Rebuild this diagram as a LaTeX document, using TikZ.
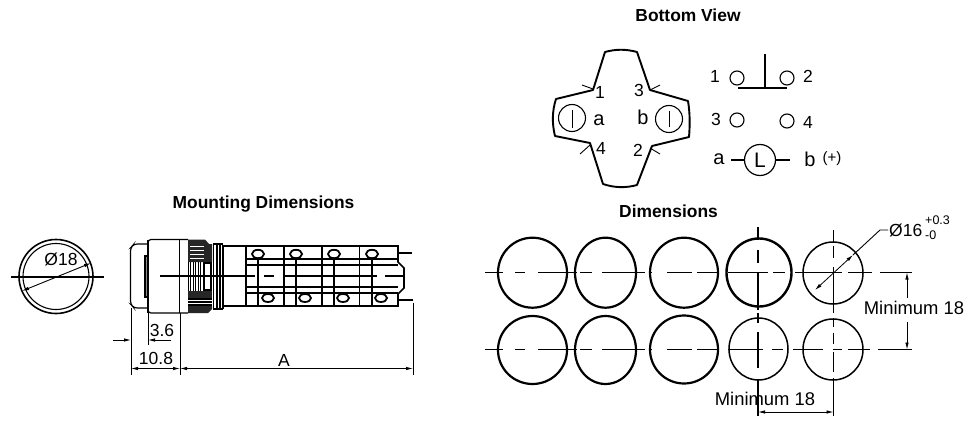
\documentclass[tikz,border=0pt]{standalone}
\usepackage{fontspec}
\setmainfont{Liberation Sans}
\usetikzlibrary{arrows.meta}
\tikzset{
  title/.style={font=\fontsize{17.4}{19}\selectfont\bfseries,inner sep=0pt},
  lab/.style={font=\fontsize{17.5}{19}\selectfont,inner sep=0pt},
  big lab/.style={font=\fontsize{20}{22}\selectfont,inner sep=0pt},
  hole/.style={line width=2.2pt},
  thin hole/.style={line width=1.5pt},
  ctr/.style={line width=1.2pt},
  ctr heavy/.style={line width=1.7pt},
  dim/.style={line width=0.8pt},
  tip/.style={-{Latex[length=7pt,width=3.5pt]}},
  tips/.style={{Latex[length=7pt,width=3.5pt]}-{Latex[length=7pt,width=3.5pt]}},
  body/.style={line width=1.2pt},
  body heavy/.style={line width=1.7pt},
  pin/.style={circle,draw,line width=1.1pt,minimum size=14pt,inner sep=0pt},
  lamp/.style={circle,draw,line width=1.1pt,minimum size=27pt,inner sep=0pt},
}
\begin{document}
\begin{tikzpicture}[x=1pt,y=-1pt]
\useasboundingbox (0,0) rectangle (972,434);
\fill[white] (0,0) rectangle (972,434);
% titles
\node[title] (t1) at (688,15) {Bottom View};
\node[title] (t2) at (263.5,204) {Mounting Dimensions};
\node[title] (t3) at (668.5,211) {Dimensions};
% ---- bottom view
\draw[line width=1.9pt,line join=round] (605,52) .. controls (616,49) and (626,49) .. (637,52) -- (650,90) -- (688,101) .. controls (690,113) and (690,125) .. (689,137) -- (652,146) -- (637,185) .. controls (626,188) and (615,188) .. (603,184) -- (590,143) -- (555,136) .. controls (552,124) and (552,111) .. (556,99) -- (593,90) -- cycle;
\draw[line width=0.9pt] (582,85)--(593,89) (650,90)--(660,85) (580,154)--(590,145) (650,148)--(660,154);
\node[lamp] (ia) at (572,118) {};
\draw[line width=0.8pt] (572,110)--(572,128);
\node[lamp] (ib) at (669,119) {};
\draw[line width=0.8pt] (669,111)--(669,127);
\node[lab,font=\fontsize{20}{22}\selectfont] (la) at (599,120) {a};
\node[lab,font=\fontsize{20}{22}\selectfont] (lb) at (643,117) {b};
\node[lab] at (600,92) {1};
\node[lab] at (639,90) {3};
\node[lab] at (601,148) {4};
\node[lab] at (638,150) {2};
\node[pin] (p1) at (737,78) {};
\node[pin] (p2) at (787,78) {};
\node[pin] (p3) at (737,120) {};
\node[pin] (p4) at (787,121) {};
\node[lab] at (715,76) {1};
\node[lab] at (808,76) {2};
\node[lab] at (716,119) {3};
\node[lab] at (808,122) {4};
\draw[line width=1.2pt] (738,88) -- (787,88);
\draw[line width=1.2pt] (765,54) -- (765,88);
\node[circle,draw,line width=1.2pt,minimum size=31pt,inner sep=0pt,font=\fontsize{21}{22}\selectfont] (L) at (760,160) {L};
\node[big lab] (a2) at (719,159) {a};
\node[big lab] (b2) at (810,159) {b};
\node[lab,font=\fontsize{15}{16}\selectfont] at (832,159) {(+)};
\coordinate (la2) at (731,160);
\coordinate (lb2) at (790,160);
\draw[line width=1.1pt] (la2) -- (L);
\draw[line width=1.1pt] (L) -- (lb2);
% ---- panel cut-out
\draw[line width=1.6pt] (56,276.5) circle (37);
\draw[line width=1.1pt] (56,276.5) circle (33);
\draw[line width=2pt] (11,276.5) -- (104,276.5);
\draw[line width=0.9pt,tips] (91,263) -- (22,291);
\node[lab] at (61,259.5) {Ø18};
% ---- body
\draw[body,rounded corners=3pt] (148,244) -- (134,244) -- (130.5,248) -- (130.5,304) -- (134,308) -- (148,308);
\draw[line width=1.2pt,fill=black!45] (145,256) rectangle (148,297);
% knurl
\fill[black!85] (188,239.5) -- (205,239.5) -- (209,244) -- (212,244) -- (212,262) -- (188,262) -- cycle;
\fill[black!85] (188,291) rectangle (212,299);
\fill[black!85] (188,306) -- (212,306) -- (212,309) -- (208,313) -- (188,313) -- cycle;
\foreach \k in {188,190.5,...,204} {\draw[line width=1pt] (\k,262) -- (\k,291);}
\foreach \k in {299,302,305} {\draw[line width=1.1pt] (188,\k) -- (212,\k);}
\foreach \k in {246,250,254,258} {\draw[line width=0.6pt,white] (190,\k) -- (204,\k);}
\draw[body,fill=white] (204,263) rectangle (211,290);
\draw[body,rounded corners=3pt] (148,244) -- (148,239.5) -- (188,239.5) (188,313) -- (148,313) -- (148,308);
\draw[body] (148,240) -- (148,313);
\draw[body] (179.5,240) -- (179.5,313);
% ring
\foreach \k in {213.5,217,220,223} {\draw[line width=1.4pt] (\k,244.5) -- (\k,309);}
\draw[body heavy] (213,244) -- (223,244) (213,309) -- (223,309);
% housing
\draw[body heavy] (223,246) -- (398,246) -- (398,262) -- (404,268) -- (404,288) -- (398,294) -- (398,306) -- (223,306);
\draw[body heavy] (246,246) -- (246,306);
\foreach \k in {284,322,359.5} {\draw[body heavy] (\k,246) -- (\k,306);}
\draw[body] (246,259) -- (398,259) (246,265) -- (398,265) (246,287) -- (398,287) (246,293) -- (398,293);
\foreach \k in {258,296,334,372} {\draw[body heavy] (\k,258) -- (\k,306);}
\foreach \k in {258,296,334,372} {
  \draw[line width=1.8pt,fill=white] (\k,254) ellipse (6 and 4.2);
}
\foreach \k in {268,305,343,381} {
  \draw[line width=1.8pt,fill=white] (\k,298) ellipse (6 and 4);
}
\draw[line width=1.4pt] (398,253) -- (412,253) (398,300) -- (413,300);
\draw[line width=1.8pt] (160,276) -- (255,276) (264,276) -- (274,276) (284,276) -- (377,276) (385,276) -- (405,276);
% dims
\coordinate (e1) at (131,308);
\coordinate (e2) at (148,313);
\coordinate (e3) at (180,313);
\coordinate (e4) at (413,303);
\draw[dim] (e1) -- (131,375);
\draw[dim] (e2) -- (148,345);
\draw[dim] (e3) -- (180,375);
\draw[dim] (e4) -- (413,375);
\draw[dim,tip] (113,340) -- (131,340);
\draw[dim,tip] (171,340) -- (148,340);
\node[lab] (d36) at (162,330) {3.6};
\node[lab] (d108) at (156,358) {10.8};
\draw[dim,tips] (131,368.5) -- (180,368.5);
\draw[dim,tips] (180,368.5) -- (413,368.5);
\node[lab] (dA) at (284,360) {A};
% ---- holes
\draw[hole] (532.5,272.7) ellipse (34.5 and 35);
\draw[hole] (605.5,272.7) ellipse (30.5 and 35);
\draw[hole] (684,272.7) ellipse (34 and 35);
\draw[line width=2.4pt] (759,272.5) ellipse (32.5 and 34);
\draw[thin hole] (833,273) ellipse (30 and 31);
\draw[hole] (532.5,350) ellipse (34.5 and 34);
\draw[hole] (605.5,350) ellipse (30.5 and 34);
\draw[hole] (684,349.5) ellipse (34 and 34);
\draw[thin hole] (758.5,349) ellipse (29.5 and 31);
\draw[thin hole] (833,349.5) ellipse (30 and 30.5);
% centre lines
\draw[ctr] (485,272.5) -- (503,272.5) (515,272.5) -- (525,272.5) (538,272.5) -- (577,272.5) (580,272.5) -- (592,272.5) (602,272.5) -- (645,272.5) (650,272.5) -- (652,272.5);
\draw[ctr heavy] (667,272.5) -- (692,272.5) (697,272.5) -- (717,272.5) (728,272.5) -- (768,272.5) (773,272.5) -- (785,272.5) (795,272.5) -- (842,272.5) (848,272.5) -- (872,272.5) (880,272.5) -- (912,272.5);
\draw[ctr] (485,349.5) -- (503,349.5) (515,349.5) -- (525,349.5) (538,349.5) -- (577,349.5) (580,349.5) -- (592,349.5) (602,349.5) -- (645,349.5) (650,349.5) -- (652,349.5);
\draw[ctr heavy] (667,349.5) -- (692,349.5) (697,349.5) -- (717,349.5) (728,349.5) -- (763,349.5) (772,349.5) -- (783,349.5);
\draw[ctr] (793,349.5) -- (823,349.5) (833,349.5) -- (842,349.5) (848,349.5) -- (870,349.5);
\draw[ctr heavy] (878,349.5) -- (912,349.5);
\draw[ctr] (758,227) -- (758,240) (758,250) -- (758,263) (758,272) -- (758,310) (758,313) -- (758,323) (758,332) -- (758,368) (758,380) -- (758,416);
\draw[ctr] (833.5,230) -- (833.5,243) (833.5,246) -- (833.5,258) (833.5,267) -- (833.5,313) (833.5,318) -- (833.5,327) (833.5,333) -- (833.5,344) (833.5,352) -- (833.5,372) (833.5,378) -- (833.5,416);
% diameter leader
\draw[dim,tips] (815,290) -- (853,255);
\coordinate (lead) at (888,230);
\draw[line width=0.9pt] (853,255) -- (880,230) -- (lead);
\node[lab,anchor=west] (d16) at (889,230) {Ø16};
\node[font=\fontsize{12.5}{13}\selectfont,inner sep=0pt,anchor=west] at (925,220) {+0.3};
\node[font=\fontsize{12.5}{13}\selectfont,inner sep=0pt,anchor=west] at (925,235) {-0};
% right dimension
\draw[dim,tip] (907,298) -- (907,272.5);
\draw[dim,tip] (907,322) -- (907,349.5);
\node[lab,font=\fontsize{18.4}{20}\selectfont] (m1) at (914,308) {Minimum 18};
% bottom dimension
\node[lab,font=\fontsize{18.4}{20}\selectfont] (m2) at (765,398.5) {Minimum 18};
\draw[dim,tips] (758,412) -- (833.5,412);
\end{tikzpicture}
\end{document}
